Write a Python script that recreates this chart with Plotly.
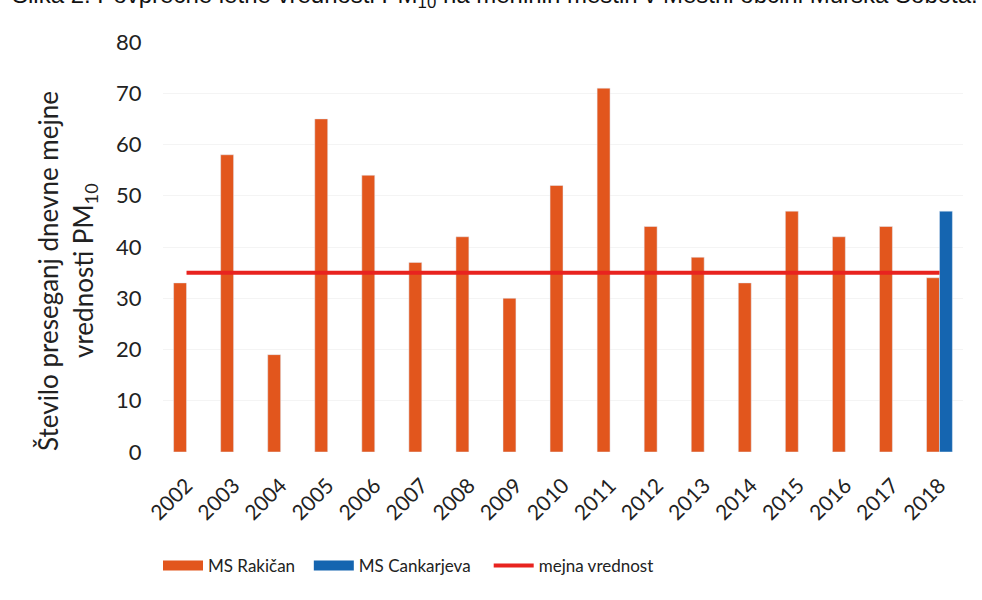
import plotly.graph_objects as go

years = ["2002", "2003", "2004", "2005", "2006", "2007", "2008", "2009", "2010",
         "2011", "2012", "2013", "2014", "2015", "2016", "2017", "2018"]
rakican = [33, 58, 19, 65, 54, 37, 42, 30, 52, 71, 44, 38, 33, 47, 42, 44, 34]
cankarjeva = [None, None, None, None, None, None, None, None, None,
              None, None, None, None, None, None, None, 47]
limit = [35, 35, 35, 35, 35, 35, 35, 35, 35, 35, 35, 35, 35, 35, 35, 35, 35]
y_ticks = [0, 10, 20, 30, 40, 50, 60, 70, 80]

ORANGE = "#E2561D"
BLUE = "#1565B0"
RED = "#E8231F"
FONT = "Lato"
NB = "\u00a0"

W, H = 982, 600
ML, MR, MT, MB = 163, 19, 42, 148
PW = W - ML - MR
PH = H - MT - MB

def px_x(px):
    return (px - ML) / PW

def px_y(py):
    return (H - MB - py) / PH

fig = go.Figure()
fig.add_trace(go.Bar(x=years, y=rakican, name="MS Rakičan", marker_color=ORANGE,
                     showlegend=False))
fig.add_trace(go.Bar(x=years, y=cankarjeva, name="MS Cankarjeva", marker_color=BLUE,
                     showlegend=False))
fig.add_trace(go.Scatter(x=years, y=limit, mode="lines", name="mejna vrednost",
                         line=dict(color=RED, width=4), showlegend=False))
# legend proxies (no data)
fig.add_trace(go.Scatter(x=[None], y=[None], mode="lines", name="MS Rakičan" + NB * 2,
                         line=dict(color=ORANGE, width=10)))
fig.add_trace(go.Scatter(x=[None], y=[None], mode="lines", name="MS Cankarjeva" + NB * 3,
                         line=dict(color=BLUE, width=10)))
fig.add_trace(go.Scatter(x=[None], y=[None], mode="lines", name="mejna vrednost",
                         line=dict(color=RED, width=4)))

fig.update_layout(
    width=W, height=H,
    margin=dict(l=ML, r=MR, t=MT, b=MB, autoexpand=False),
    paper_bgcolor="white", plot_bgcolor="white",
    barmode="group", bargap=0.45, bargroupgap=0,
    font=dict(family=FONT, color="#222222", size=20),
    showlegend=True,
    legend=dict(orientation="h", x=px_x(158), y=px_y(566), xanchor="left",
                yanchor="middle", font=dict(size=17, family=FONT), itemwidth=40,
                bgcolor="rgba(0,0,0,0)"),
    xaxis=dict(type="category", tickangle=-45, showgrid=False, showline=False,
               ticks="outside", ticklen=12, tickcolor="rgba(0,0,0,0)",
               tickfont=dict(size=21, family=FONT)),
    yaxis=dict(range=[0, 80], tickvals=y_ticks, showgrid=True, gridcolor="#F4F4F4",
               zeroline=False, showline=False, ticks="outside", ticklen=16,
               tickcolor="rgba(0,0,0,0)", tickfont=dict(size=22, family=FONT)),
    annotations=[
        dict(text="Število preseganj dnevne mejne", xref="paper", yref="paper",
             x=px_x(48), y=px_y(271), textangle=-90, showarrow=False,
             xanchor="center", yanchor="middle", font=dict(size=26, family=FONT)),
        dict(text="vrednosti PM<sub>10</sub>", xref="paper", yref="paper",
             x=px_x(84), y=px_y(271), textangle=-90, showarrow=False,
             xanchor="center", yanchor="middle", font=dict(size=26, family=FONT)),
        dict(text="Slika 2: Povprečne letne vrednosti PM<sub>10</sub> na merilnih mestih v Mestni občini Murska Sobota.",
             xref="paper", yref="paper", x=px_x(495), y=px_y(14),
             xanchor="center", yanchor="bottom", showarrow=False,
             font=dict(size=24, family="Liberation Sans", color="#111111")),
    ],
)

fig.write_html("out.html", config={"displayModeBar": False},
               post_script="document.body.style.margin='0px';")
